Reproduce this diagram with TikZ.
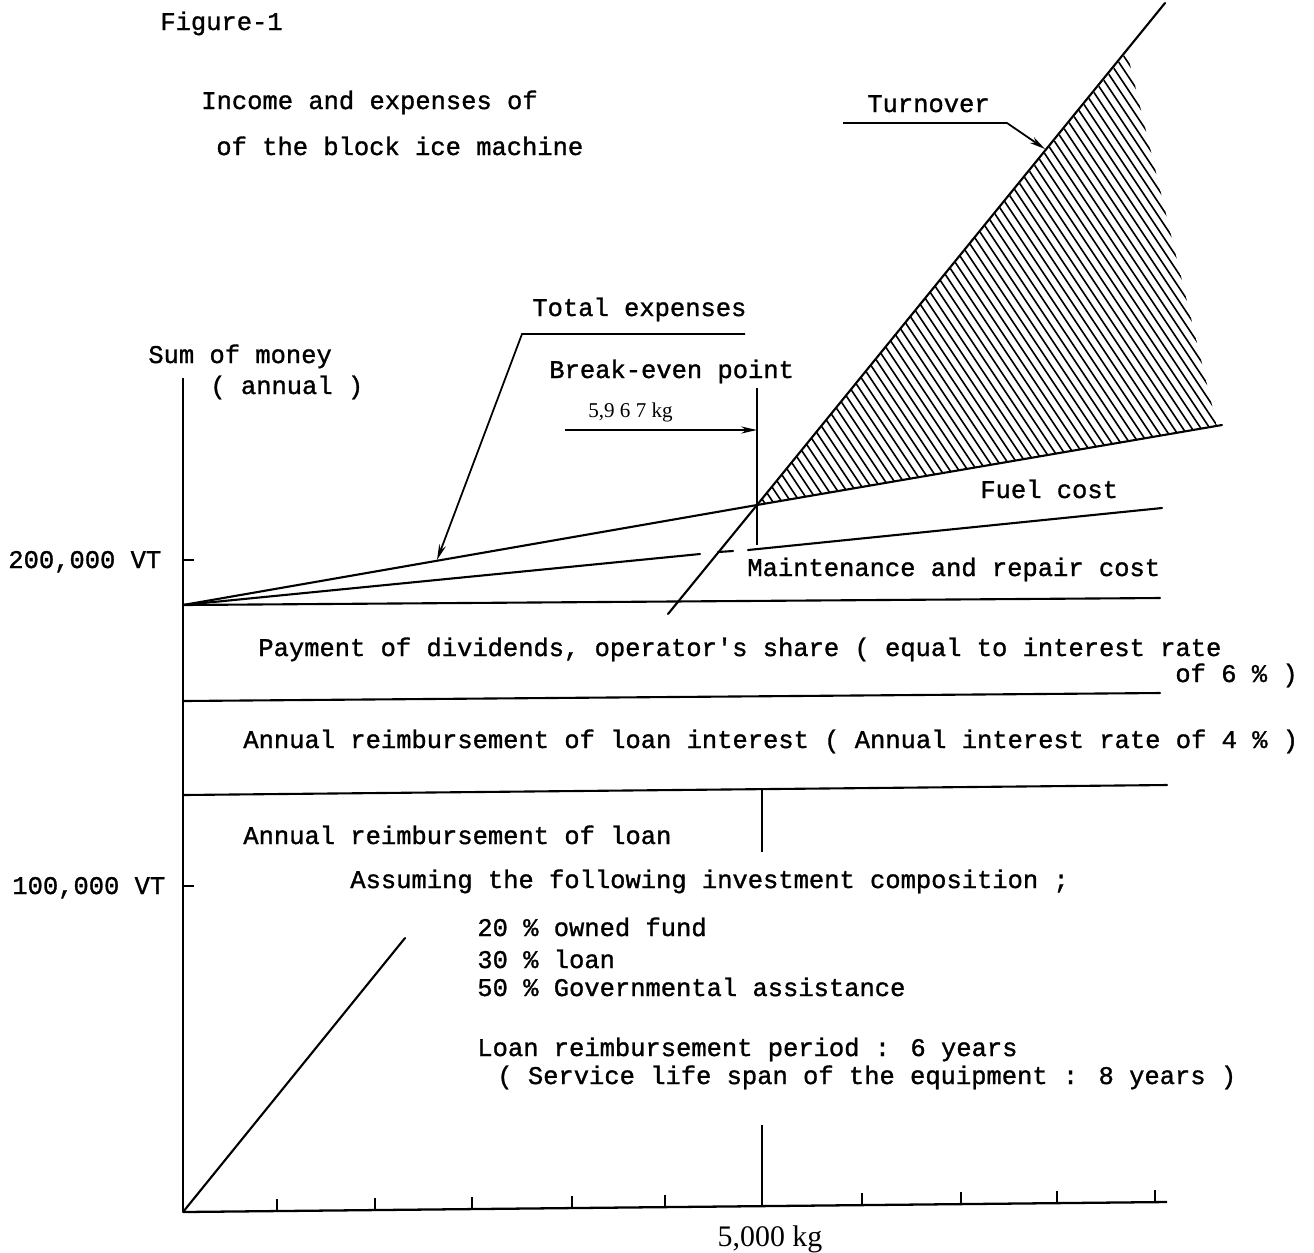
\documentclass[tikz,border=0pt]{standalone}
\usepackage{fontspec}
\newfontfamily\typew[FakeBold=1.2]{Liberation Mono}
\newfontfamily\serifx{Liberation Serif}
\usetikzlibrary{arrows.meta}
\begin{document}
\begin{tikzpicture}[x=0.02cm,y=-0.02cm,
  txt/.style={inner sep=0pt, anchor=base west, font=\typew\fontsize{14.5pt}{17pt}\selectfont},
  ln/.style={line width=1.2pt, line cap=round},
  axis/.style={line width=1.3pt},
  tick/.style={line width=1pt},
  hatch/.style={line width=0.9pt},
  lead/.style={line width=1pt, -{Stealth[length=9pt,width=4pt]}}]
\fill[white] (0,0) rectangle (1314,1252);
\useasboundingbox (0,0) rectangle (1314,1252);

% key points
\coordinate (O) at (183,1212);
\coordinate (F) at (183,605);
\coordinate (BE) at (757,505);
\coordinate (T) at (1165,3);
\coordinate (Tlow) at (405,938);
\coordinate (Tmid) at (668,614);
\coordinate (TEend) at (1222,425);
\coordinate (Mend) at (1162,508);

% hatching
\begin{scope}
  \clip (BE) -- (1127,52) -- (1217,426) -- cycle;
  \foreach \c in {757,766,...,1445}{
    \draw[hatch] (\c-300,55) -- (\c+300,955);
  }
\end{scope}

% axes
\draw[axis] (183,378) -- (O);
\coordinate (Xend) at (1167,1202);
\draw[axis] (O) -- (Xend);
\foreach \xx in {277,375,472,572,665,862,961,1057,1155}{
  \draw[tick] (\xx,{1212-10*(\xx-183)/984}) -- ++(0,-12);
}
\draw[tick] (762,1206) -- (762,1125);
\draw[tick] (183,560) -- (194,560);
\draw[tick] (183,886) -- (194,886);

% horizontal cost lines
\draw[ln] (F) -- (1160,598);
\draw[ln] (183,701) -- (1160,693);
\draw[ln] (183,795) -- (1167,785);
\draw[tick] (762,788) -- (762,852);

% total expenses line
\draw[ln] (F) -- (BE) -- (TEend);
% maintenance (middle) line
\draw[ln] (F) -- (700,554);
\draw[ln] (718,552) -- (733,551);
\draw[ln] (748,550) -- (Mend);

% turnover line
\draw[ln] (O) -- (Tlow);
\draw[ln] (Tmid) -- (BE) -- (T);

% break-even vertical and 5,967 kg arrow
\draw[tick] (757,388) -- (757,545);
\coordinate (a5967) at (565,430);
\coordinate (b5967) at (757,430);
\draw[lead] (a5967) -- (b5967);

% leaders
\coordinate (tl1) at (745,334);
\coordinate (tl2) at (522,334);
\coordinate (tl3) at (437,560);
\draw[lead] (tl1) -- (tl2) -- (tl3);
\coordinate (to1) at (843,123);
\coordinate (to2) at (1007,123);
\coordinate (to3) at (1045,149);
\draw[lead] (to1) -- (to2) -- (to3);

% texts
\node[txt] (fig) at (160,30) {Figure-1};
\node[txt] (ti1) at (201,109) {Income and expenses of};
\node[txt] (ti2) at (216,155) {of the block ice machine};
\node[txt] (turn) at (867,112) {Turnover};
\node[txt] (total) at (532,316) {Total expenses};
\node[txt] (sum) at (148,363) {Sum of money};
\node[txt] (ann) at (210,394) {( annual )};
\node[txt] (bep) at (549,378) {Break-even point};
\node[inner sep=0pt, anchor=base west, font=\serifx\fontsize{12pt}{14pt}\selectfont] (kg5967) at (588,417) {5,9 6 7 kg};
\node[txt] (fuel) at (980,498) {Fuel cost};
\node[txt] (maint) at (747,576) {Maintenance and repair cost};
\node[txt] (v200) at (8,568) {200,000 VT};
\node[txt] (pay) at (258,656) {Payment of dividends, operator's share ( equal to interest rate};
\node[txt] (of6) at (1175,682) {of 6 \% )};
\node[txt] (intr) at (243,748) {Annual reimbursement of loan interest ( Annual interest rate of 4 \% )};
\node[txt] (loan) at (243,844) {Annual reimbursement of loan};
\node[txt] (v100) at (12,894) {100,000 VT};
\node[txt] (assum) at (350,888) {Assuming the following investment composition ;};
\node[txt] (p20) at (477,936) {20 \% owned fund};
\node[txt] (p30) at (477,968) {30 \% loan};
\node[txt] (p50) at (477,996) {50 \% Governmental assistance};
\node[txt] (period) at (477,1056) {Loan reimbursement period : 6 years};
\node[txt] (serv) at (497,1084) {( Service life span of the equipment : 8 years )};
\node[inner sep=0pt, anchor=base, font=\serifx\fontsize{17pt}{20pt}\selectfont] (k5000) at (770,1246) {5,000 kg};
\end{tikzpicture}
\end{document}
